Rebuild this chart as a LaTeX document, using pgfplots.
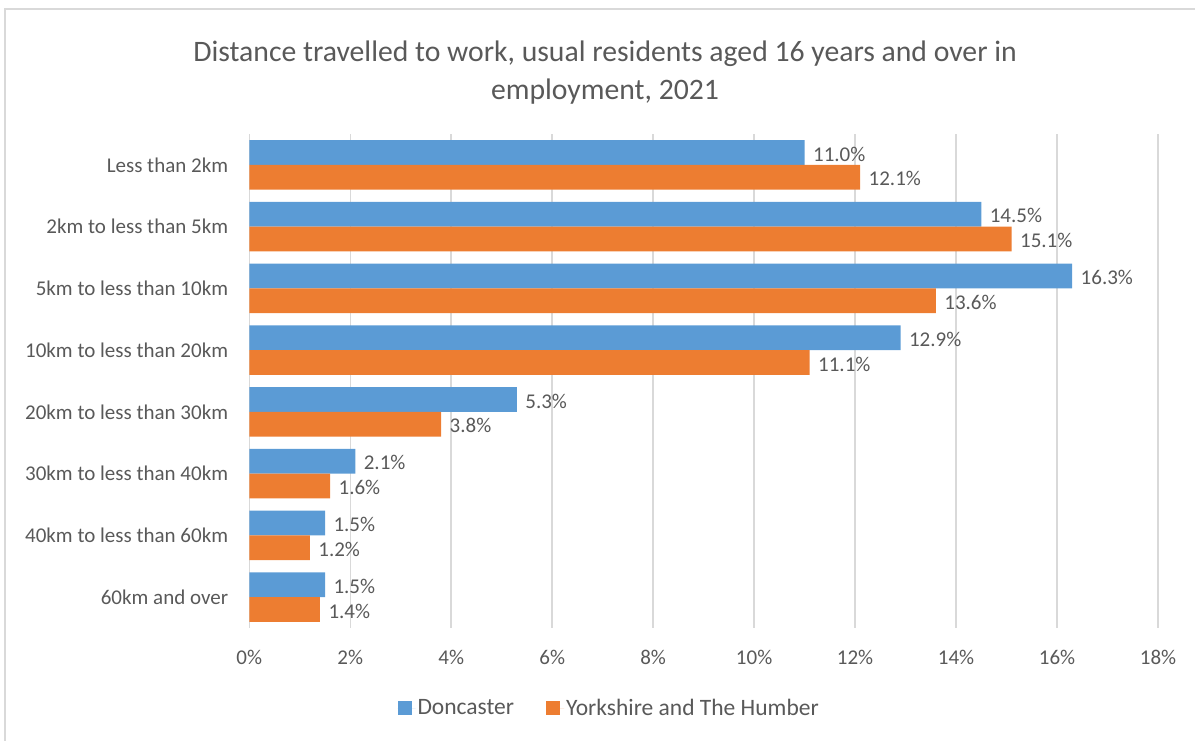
\documentclass[border=0pt]{standalone}
\usepackage{fontspec}
\setmainfont{Carlito}
\usepackage{pgfplots}
\pgfplotsset{compat=1.18}
\definecolor{dblue}{HTML}{5B9BD5}
\definecolor{yorange}{HTML}{ED7D31}
\definecolor{txt}{HTML}{595959}
\definecolor{gridc}{HTML}{D9D9D9}
\begin{document}
\begin{tikzpicture}[x=1pt,y=1pt]
\path[use as bounding box] (0,0) rectangle (1195,740);
\draw[gridc, line width=1.5pt] (5,-5) -- (5,731) -- (1200,731);
\node[text=txt, font=\fontsize{29.7}{38}\selectfont, align=center] at (605,667) {Distance travelled to work, usual residents aged 16 years and over in\\employment, 2021};
\begin{axis}[
  scale only axis, width=908.7pt, height=494pt,
  at={(249.3pt,112pt)}, anchor=south west,
  xbar, bar width=24.7pt,
  xmin=0, xmax=18, ymin=-0.5, ymax=7.5, y dir=reverse,
  xtick={0,2,...,18},
  xticklabels={0\%,2\%,4\%,6\%,8\%,10\%,12\%,14\%,16\%,18\%},
  ytick={0,...,7},
  yticklabels={Less than 2km,2km to less than 5km,5km to less than 10km,10km to less than 20km,20km to less than 30km,30km to less than 40km,40km to less than 60km,60km and over},
  major tick length=0pt,
  axis line style={draw=none},
  xmajorgrids, grid style={gridc, line width=1.5pt},
  ticklabel style={font=\fontsize{21}{25}\selectfont, text=txt},
  yticklabel style={anchor=east, inner sep=0pt},
  xticklabel style={anchor=north, inner sep=0pt},
  yticklabel shift=21pt,
  xticklabel shift=22pt,
  /pgf/number format/assume math mode=true,
  point meta=x,
  nodes near coords={\pgfmathprintnumber[fixed,fixed zerofill,precision=1]{\pgfplotspointmeta}\%},
  every node near coord/.append style={font=\fontsize{21}{25}\selectfont, text=txt, xshift=5pt, yshift=-1.5pt},
  legend style={at={(0.396,-0.162)}, anchor=center, draw=none, legend columns=2,
    font=\fontsize{23.5}{28}\selectfont, text=txt,
    /tikz/every even column/.append style={column sep=30pt}},
  legend image code/.code={\fill[#1,draw=none] (0pt,-7pt) rectangle (14pt,7pt); \path (0pt,0pt) -- (18pt,0pt);},
]
\addplot[fill=dblue, draw=none, bar shift=12.35pt] coordinates {(11.0,0) (14.5,1) (16.3,2) (12.9,3) (5.3,4) (2.1,5) (1.5,6) (1.5,7)};
\addplot[fill=yorange, draw=none, bar shift=-12.35pt] coordinates {(12.1,0) (15.1,1) (13.6,2) (11.1,3) (3.8,4) (1.6,5) (1.2,6) (1.4,7)};
\legend{Doncaster,Yorkshire and The Humber}
\end{axis}
\end{tikzpicture}
\end{document}
